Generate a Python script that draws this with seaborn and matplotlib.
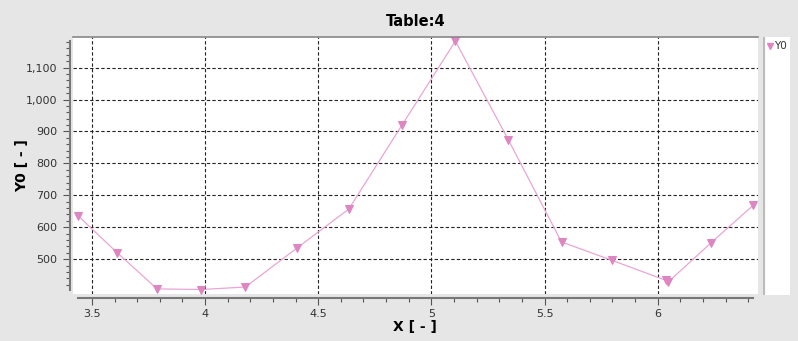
import numpy as np
import pandas as pd
import matplotlib
matplotlib.use('Agg')
import matplotlib.pyplot as plt
import seaborn as sns
from matplotlib.ticker import FixedLocator, FuncFormatter

# values
x_vals = [3.44, 3.612, 3.788, 3.984, 4.178, 4.408, 4.635, 4.87, 5.106,
          5.34, 5.575, 5.80, 6.035, 6.047, 6.234, 6.422]
y_vals = [635, 520, 407, 405, 413, 536, 657, 920, 1183,
          874, 554, 496, 434, 429, 550, 669]
x_major = [3.5, 4, 4.5, 5, 5.5, 6]
y_major = [500, 600, 700, 800, 900, 1000, 1100]
series_name = 'Y0'
title = 'Table:4'
x_label = 'X [ - ]'
y_label = 'Y0 [ - ]'

df = pd.DataFrame({'X': x_vals, 'Y': y_vals, 'series': series_name})

sns.set_style('white')
plt.rcParams['font.family'] = ['DejaVu Sans']

bg = '#e6e6e6'
fig = plt.figure(figsize=(7.98, 3.41), dpi=100, facecolor=bg)
W, H = 798, 341
ax = fig.add_axes([72.7 / W, 1 - 294 / H, (757.7 - 72.7) / W, (294 - 37.3) / H])
ax.set_facecolor('white')

sns.lineplot(data=df, x='X', y='Y', hue='series', palette=['#e9a6d4'],
             sort=False, ax=ax, linewidth=0.9, marker='v', markersize=6,
             markerfacecolor='#de86c2', markeredgecolor='#de86c2', legend=False)

ax.set_xlim(3.415, 6.442)
ax.set_ylim(391, 1195)

# axis lines only span the data range, like the original tool
x_lo, x_hi = min(x_vals), max(x_vals)
y_lo, y_hi = min(y_vals), max(y_vals)
x_minor = [t for t in np.round(np.arange(3.4, 6.5, 0.1), 1) if x_lo <= t <= x_hi and t not in x_major]
y_minor = [t for t in range(400, 1200, 20) if y_lo <= t <= y_hi and t not in y_major]
ax.xaxis.set_major_locator(FixedLocator(x_major))
ax.xaxis.set_minor_locator(FixedLocator(x_minor))
ax.yaxis.set_major_locator(FixedLocator(y_major))
ax.yaxis.set_minor_locator(FixedLocator(y_minor))
ax.xaxis.set_major_formatter(FuncFormatter(lambda v, p: f'{v:g}'))
ax.yaxis.set_major_formatter(FuncFormatter(lambda v, p: f'{int(v):,}'))

ax.grid(True, which='major', color='#222222', linestyle=(0, (3, 2)), linewidth=0.8)
ax.tick_params(which='both', direction='out', colors='#555555', labelcolor='#333333',
               labelsize=8, bottom=True, left=True)
ax.tick_params(which='major', length=5, width=0.8)
ax.tick_params(which='minor', length=3, width=0.8)
ax.tick_params(axis='y', which='major', pad=4)
ax.tick_params(axis='x', which='major', pad=2.5)

ax.spines['right'].set_visible(False)
ax.spines['top'].set_color('#888888')
ax.spines['top'].set_linewidth(1.2)
ax.spines['left'].set_position(('outward', 2))
ax.spines['bottom'].set_position(('outward', 3))
ax.spines['left'].set_bounds(y_lo, y_hi)
ax.spines['bottom'].set_bounds(x_lo, x_hi)
for s in ['left', 'bottom']:
    ax.spines[s].set_color('#777777')
    ax.spines[s].set_linewidth(1.5)

ax.set_xlabel(x_label, fontsize=10, fontweight='bold', labelpad=1, color='black')
ax.set_ylabel(y_label, fontsize=10, fontweight='bold', labelpad=-2, color='black')
ax.set_title(title, fontsize=10.5, fontweight='bold', pad=8, color='black')

# legend panel on the right
lax = fig.add_axes([763 / W, 1 - 295 / H, 27 / W, (295 - 37.3) / H])
lax.set_facecolor('white')
lax.set_xticks([])
lax.set_yticks([])
for s in lax.spines.values():
    s.set_visible(False)
lax.axvline(0, color='#bbbbbb', linewidth=3)
lax.plot([0.25], [0.965], marker='v', color='#de86c2', markersize=5, transform=lax.transAxes)
lax.text(0.42, 0.965, series_name, transform=lax.transAxes, fontsize=7.5,
         va='center', ha='left', color='#333333')
lax.set_xlim(0, 1)
lax.set_ylim(0, 1)

fig.savefig('out.png', dpi=100, facecolor=bg)
